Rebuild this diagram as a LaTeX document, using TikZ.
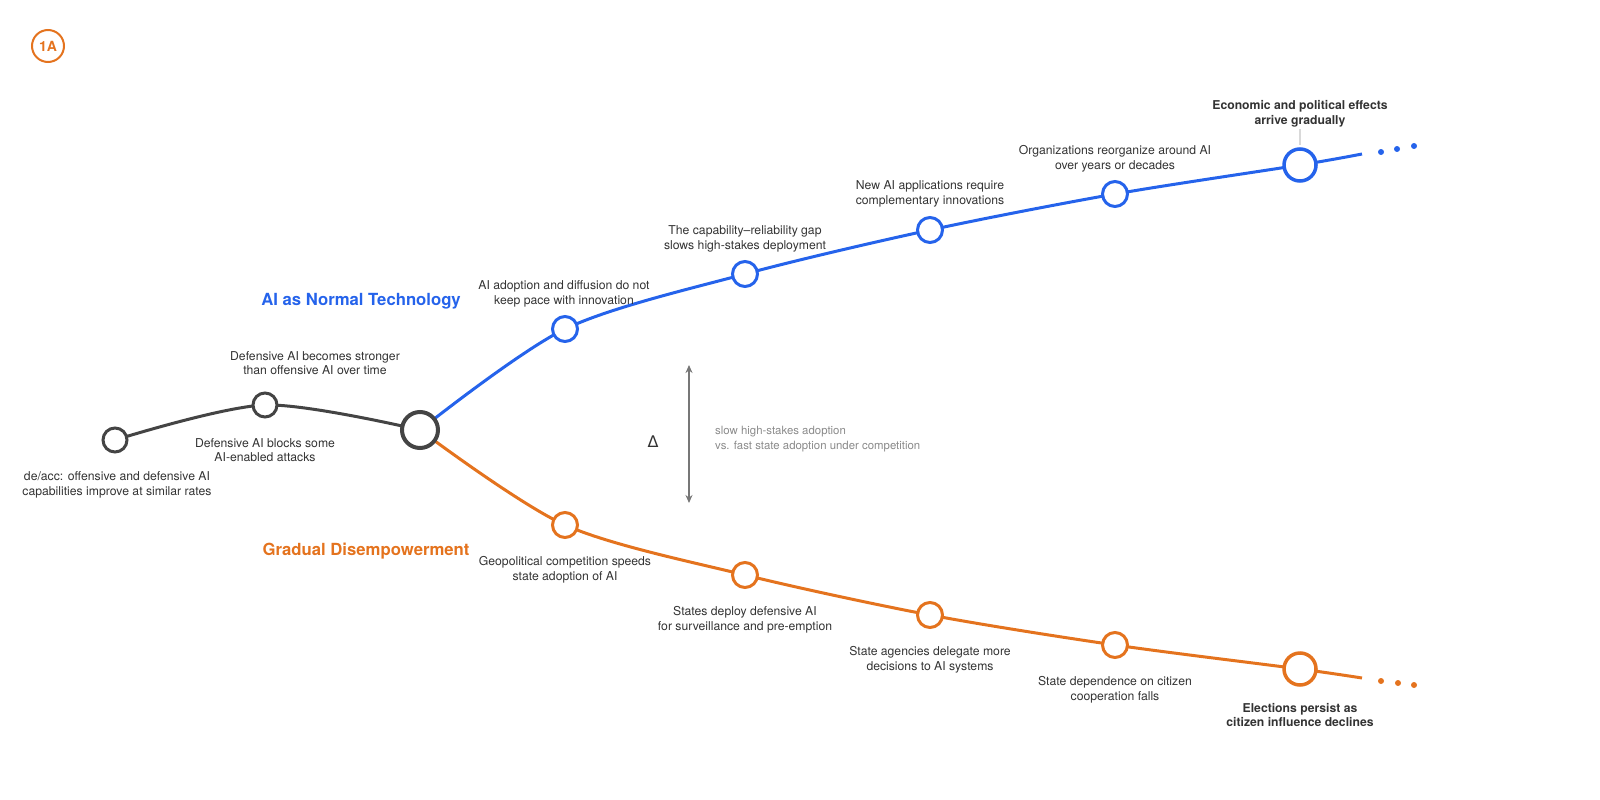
\documentclass[tikz,border=0pt]{standalone}
\usepackage{fontspec}
\setmainfont{TeX Gyre Heros}
\newfontfamily\deltafont{DejaVu Sans}
\usepackage{tikz}
\usetikzlibrary{backgrounds, arrows.meta}
\definecolor{aiblue}{HTML}{2563EB}
\definecolor{gdorange}{HTML}{E4731E}
\definecolor{pathgrey}{HTML}{444444}
\definecolor{txtgrey}{HTML}{333333}
\definecolor{arrgrey}{HTML}{777777}
\definecolor{notegrey}{HTML}{8A8A8A}
\definecolor{tickgrey}{HTML}{D9D9D9}
\tikzstyle{stage}=[draw, shape=circle, fill=white, inner sep=0pt, minimum size=25pt, line width=3pt]
\tikzstyle{lbl}=[inner sep=0pt, align=center, text=txtgrey, font=\fontsize{12.2}{14.5}\selectfont]
\tikzstyle{dot}=[shape=circle, inner sep=0pt, minimum size=6pt]
\tikzset{>={Stealth[length=8pt, width=7pt]}}

\begin{document}
\begin{tikzpicture}[x=1pt, y=-1pt]
\useasboundingbox (0,0) rectangle (1600,800);
\node[draw=gdorange, line width=2pt, shape=circle, minimum size=32pt, inner sep=0pt, text=gdorange, font=\bfseries\fontsize{14}{14}\selectfont] (tag) at (48,46) {1A};
% shared trunk
\node[stage, draw=pathgrey, minimum size=24pt] (N0) at (115,440) {};
\node[stage, draw=pathgrey, minimum size=24pt] (N1) at (265,405) {};
\node[stage, draw=pathgrey, minimum size=36pt, line width=4pt] (H) at (420,430) {};
% normal technology branch
\node[stage, draw=aiblue] (B1) at (565,329) {};
\node[stage, draw=aiblue] (B2) at (745,274) {};
\node[stage, draw=aiblue] (B3) at (930,230) {};
\node[stage, draw=aiblue] (B4) at (1115,194) {};
\node[stage, draw=aiblue, minimum size=32pt, line width=3.5pt] (B5) at (1300,165) {};
\coordinate (BE) at (1362,154);
% disempowerment branch
\node[stage, draw=gdorange] (O1) at (565,525) {};
\node[stage, draw=gdorange] (O2) at (745,575) {};
\node[stage, draw=gdorange] (O3) at (930,615) {};
\node[stage, draw=gdorange] (O4) at (1115,645) {};
\node[stage, draw=gdorange, minimum size=32pt, line width=3.5pt] (O5) at (1300,669) {};
\coordinate (OE) at (1362,678);
\foreach \x/\y [count=\i] in {1381/152, 1397/149, 1414/146}
  \node[dot, fill=aiblue] (BD\i) at (\x,\y) {};
\foreach \x/\y [count=\i] in {1381/681, 1398/683, 1414/685}
  \node[dot, fill=gdorange] (OD\i) at (\x,\y) {};
\begin{scope}[on background layer]
\draw[pathgrey, line width=3pt] plot[smooth] coordinates {(N0.center) (N1.center) (H.center)};
\draw[aiblue, line width=3pt] plot[smooth] coordinates {(H.center) (B1.center) (B2.center) (B3.center) (B4.center) (B5.center) (BE)};
\draw[gdorange, line width=3pt] plot[smooth] coordinates {(H.center) (O1.center) (O2.center) (O3.center) (O4.center) (O5.center) (OE)};
\end{scope}
% texts
\node[lbl] (tN0) at (117,485) {de/acc: offensive and defensive AI\\capabilities improve at similar rates};
\node[lbl] (tN1) at (315,363) {Defensive AI becomes stronger\\than offensive AI over time};
\node[lbl] (tN1b) at (265,450) {Defensive AI blocks some\\AI-enabled attacks};
\node[anchor=base, inner sep=0pt, text=aiblue, font=\bfseries\fontsize{16.7}{20}\selectfont] (tBlue) at (361,305) {AI as Normal Technology};
\node[lbl] (tB1) at (564,294) {AI adoption and diffusion do not\\keep pace with innovation};
\node[lbl] (tB2) at (745,239) {The capability--reliability gap\\slows high-stakes deployment};
\node[lbl] (tB3) at (930,194) {New AI applications require\\complementary innovations};
\node[lbl] (tB4) at (1115,159) {Organizations reorganize around AI\\over years or decades};
\node[lbl, font=\bfseries\fontsize{12.2}{14.5}\selectfont] (tB5) at (1300,114) {Economic and political effects\\arrive gradually};
\coordinate (tick) at (1300,129);
\draw[tickgrey, line width=1.5pt, shorten >=2pt] (tick) -- (B5.north);
\node[anchor=base, inner sep=0pt, text=gdorange, font=\bfseries\fontsize{16.7}{20}\selectfont] (tOrange) at (366,555) {Gradual Disempowerment};
\node[lbl] (tO1) at (565,570) {Geopolitical competition speeds\\state adoption of AI};
\node[lbl] (tO2) at (745,620) {States deploy defensive AI\\for surveillance and pre-emption};
\node[lbl] (tO3) at (930,660) {State agencies delegate more\\decisions to AI systems};
\node[lbl] (tO4) at (1115,690) {State dependence on citizen\\cooperation falls};
\node[lbl, font=\bfseries\fontsize{12.2}{14.5}\selectfont] (tO5) at (1300,715) {Elections persist as\\citizen influence declines};
% gap between the branches
\coordinate (DT) at (689,365);
\coordinate (DB) at (689,503);
\draw[<->, arrgrey, line width=1.5pt] (DT) -- (DB);
\node[inner sep=0pt, text=txtgrey, font=\deltafont\fontsize{16}{16}\selectfont] (delta) at (653,442) {Δ};
\node[lbl, anchor=west, align=left, text=notegrey, font=\fontsize{11.4}{15}\selectfont] (note) at (715,439) {slow high-stakes adoption\\vs. fast state adoption under competition};
\end{tikzpicture}
\end{document}
